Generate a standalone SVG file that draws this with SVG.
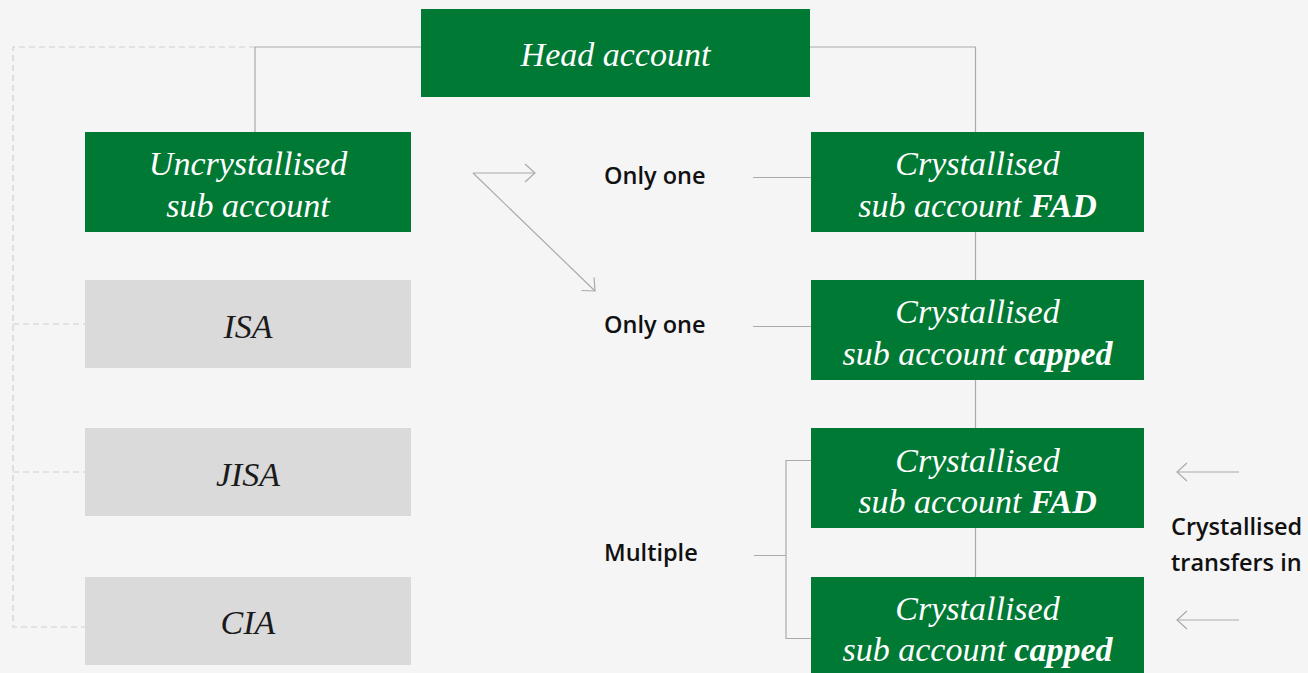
<svg xmlns="http://www.w3.org/2000/svg" width="1308" height="673" viewBox="0 0 1308 673">
<defs>
<style>
.bg{fill:#f5f5f5}
.g{fill:#007934}
.gr{fill:#dadada}
.st{font-family:"Liberation Serif","Times New Roman",serif;font-style:italic;font-size:34px;text-anchor:middle}
.w{fill:#ffffff}
.d{fill:#1a1a1a}
.b{font-weight:bold}
.lab{font-family:"Open Sans","Noto Sans",sans-serif;font-weight:600;font-size:23.5px;fill:#111}
.ln{fill:none;stroke:#aaaaaa;stroke-width:1.2}
.dash{fill:none;stroke:#cfcfcf;stroke-width:1.2;stroke-dasharray:6 4}
</style>
<marker id="arr" markerUnits="userSpaceOnUse" markerWidth="30" markerHeight="30" refX="0" refY="0" viewBox="-15 -15 30 30" orient="auto" overflow="visible">
<path d="M-10,-9 L0,0 L-10,9" fill="none" stroke="#aaaaaa" stroke-width="1.2"/>
</marker>
</defs>
<rect class="bg" x="0" y="0" width="1308" height="673"/>
<g id="connectors">
<path class="dash" d="M255,47 H13 V627 H85 M13,324 H85 M13,472 H85"/>
<path class="ln" d="M421,47 H255 V132"/>
<path class="ln" d="M810,47 H975.5 V132 M975.5,232 V280 M975.5,380 V428 M975.5,528 V577"/>
<path class="ln" d="M753,177.5 H811 M753,326.5 H811 M754,555.5 H786 M811,460.5 H786 V638.5 H811"/>
<path class="ln" d="M473,173 H535" marker-end="url(#arr)"/>
<path class="ln" d="M473,173 L595,291" marker-end="url(#arr)"/>
<path class="ln" d="M1239,472 H1177" marker-end="url(#arr)"/>
<path class="ln" d="M1239,620 H1177" marker-end="url(#arr)"/>
</g>
<g id="head">
<rect class="g" x="421" y="9" width="389" height="88"/>
<text class="st w" x="615.5" y="66">Head account</text>
</g>
<g id="uncrystallised">
<rect class="g" x="85" y="132" width="326" height="100"/>
<text class="st w" x="248" y="175">Uncrystallised</text>
<text class="st w" x="248" y="217">sub account</text>
</g>
<g id="isa">
<rect class="gr" x="85" y="280" width="326" height="88"/>
<text class="st d" x="248" y="338">ISA</text>
</g>
<g id="jisa">
<rect class="gr" x="85" y="428" width="326" height="88"/>
<text class="st d" x="248" y="486">JISA</text>
</g>
<g id="cia">
<rect class="gr" x="85" y="577" width="326" height="88"/>
<text class="st d" x="248" y="634">CIA</text>
</g>
<g id="cfad1">
<rect class="g" x="811" y="132" width="333" height="100"/>
<text class="st w" x="977.5" y="175">Crystallised</text>
<text class="st w" x="977.5" y="217">sub account <tspan class="b">FAD</tspan></text>
</g>
<g id="ccap1">
<rect class="g" x="811" y="280" width="333" height="100"/>
<text class="st w" x="977.5" y="323">Crystallised</text>
<text class="st w" x="977.5" y="365">sub account <tspan class="b">capped</tspan></text>
</g>
<g id="cfad2">
<rect class="g" x="811" y="428" width="333" height="100"/>
<text class="st w" x="977.5" y="472">Crystallised</text>
<text class="st w" x="977.5" y="513">sub account <tspan class="b">FAD</tspan></text>
</g>
<g id="ccap2">
<rect class="g" x="811" y="577" width="333" height="100"/>
<text class="st w" x="977.5" y="620">Crystallised</text>
<text class="st w" x="977.5" y="661">sub account <tspan class="b">capped</tspan></text>
</g>
<g id="labels">
<text class="lab" x="604" y="184">Only one</text>
<text class="lab" x="604" y="333">Only one</text>
<text class="lab" x="604" y="561">Multiple</text>
<text class="lab" x="1171" y="535">Crystallised</text>
<text class="lab" x="1171" y="571">transfers in</text>
</g>
</svg>
